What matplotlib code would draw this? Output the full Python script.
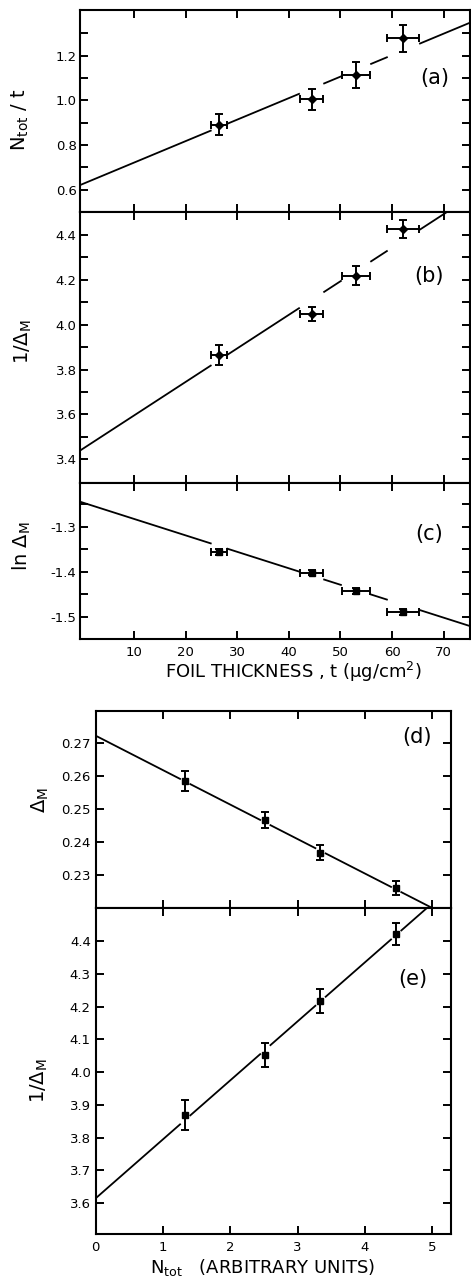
import numpy as np
import matplotlib
matplotlib.use("Agg")
import matplotlib.pyplot as plt
from matplotlib.ticker import FixedLocator

plt.rcParams['font.family'] = ['DejaVu Sans']
plt.rcParams['mathtext.fontset'] = 'dejavusans'
plt.rcParams['mathtext.default'] = 'regular'

# ---- data: top group (vs foil thickness) ----
thickness = [26.5, 44.4, 53.0, 62.2]
thickness_err = [1.5, 2.3, 2.8, 3.1]
ntot_per_t = [0.892, 1.005, 1.112, 1.278]
ntot_per_t_err = [0.045, 0.046, 0.058, 0.060]
inv_delta_t = [3.864, 4.048, 4.219, 4.428]
inv_delta_t_err = [0.045, 0.031, 0.042, 0.040]
ln_delta_t = [-1.357, -1.402, -1.443, -1.490]
ln_delta_t_err = [0.007, 0.006, 0.006, 0.006]
fit_a = (0.625, 0.00963)
fit_b = (3.446, 0.01495)
fit_c = (-1.246, -0.003665)
top_xticks = [10, 20, 30, 40, 50, 60, 70]

# ---- data: bottom group (vs N_tot) ----
ntot = [1.33, 2.52, 3.34, 4.465]
delta_m = [0.2585, 0.2467, 0.2368, 0.2260]
delta_m_err = [0.0030, 0.0023, 0.0023, 0.0021]
inv_delta_n = [3.870, 4.052, 4.218, 4.421]
inv_delta_n_err = [0.046, 0.037, 0.037, 0.033]
fit_d = (0.2723, -0.01046)
fit_e = (3.615, 0.180)
bottom_xticks = [0, 1, 2, 3, 4, 5]

W, H = 471, 1279
fig = plt.figure(figsize=(W / 100, H / 100), dpi=100)

def ax_px(left, top, right, bottom):
    return fig.add_axes([left / W, 1 - bottom / H, (right - left) / W, (bottom - top) / H])

axa = ax_px(80, 10, 469.5, 212)
axb = ax_px(80, 212, 469.5, 482.7)
axc = ax_px(80, 482.7, 469.5, 639)
axd = ax_px(95.7, 711, 450.7, 908.3)
axe = ax_px(95.7, 908.3, 450.7, 1234)

LW = 1.5
for ax in (axa, axb, axc, axd, axe):
    for s in ax.spines.values():
        s.set_linewidth(LW)
    ax.tick_params(which='both', direction='in', top=True, right=True,
                   length=6, width=1.4, labelsize=9.5, pad=2.5)

def fitline(ax, fit, xlim, xs, gaps):
    x = np.linspace(xlim[0], xlim[1], 2000)
    y = fit[0] + fit[1] * x
    for xi, g in zip(xs, gaps):
        y = np.where(np.abs(x - xi) < g, np.nan, y)
    ax.plot(x, y, color='black', lw=1.3, clip_on=True)

def points(ax, x, y, yerr, xerr=None, marker='D', ms=4.5):
    ax.errorbar(x, y, yerr=yerr, xerr=xerr, fmt=marker, color='black', ms=ms,
                ecolor='black', elinewidth=1.4, capsize=3, capthick=1.4)

# top group
txlim = (-0.47, 75.0)
for ax in (axa, axb, axc):
    ax.set_xlim(*txlim)
    ax.xaxis.set_major_locator(FixedLocator(top_xticks))
for ax in (axa, axb):
    ax.tick_params(labelbottom=False)

gaps_top = [e + 0.1 for e in thickness_err]

axa.set_ylim(0.5, 1.405)
axa.yaxis.set_major_locator(FixedLocator([0.6, 0.8, 1.0, 1.2]))
axa.yaxis.set_minor_locator(FixedLocator([0.7, 0.9, 1.1, 1.3]))
axa.set_yticklabels(['0.6', '0.8', '1.0', '1.2'])
fitline(axa, fit_a, txlim, thickness, gaps_top)
points(axa, thickness, ntot_per_t, ntot_per_t_err, thickness_err)

axb.set_ylim(3.296, 4.502)
axb.yaxis.set_major_locator(FixedLocator([3.4, 3.6, 3.8, 4.0, 4.2, 4.4]))
axb.yaxis.set_minor_locator(FixedLocator([3.5, 3.7, 3.9, 4.1, 4.3]))
axb.set_yticklabels(['3.4', '3.6', '3.8', '4.0', '4.2', '4.4'])
fitline(axb, fit_b, txlim, thickness, gaps_top)
points(axb, thickness, inv_delta_t, inv_delta_t_err, thickness_err)

axc.set_ylim(-1.55, -1.202)
axc.yaxis.set_major_locator(FixedLocator([-1.5, -1.4, -1.3]))
axc.yaxis.set_minor_locator(FixedLocator([-1.45, -1.35, -1.25]))
axc.set_yticklabels(['-1.5', '-1.4', '-1.3'])
axc.set_xticklabels([str(v) for v in top_xticks])
axc.tick_params(axis='x', pad=5)
fitline(axc, fit_c, txlim, thickness, gaps_top)
points(axc, thickness, ln_delta_t, ln_delta_t_err, thickness_err, marker='s', ms=5)

# bottom group
bxlim = (0, 5.275)
for ax in (axd, axe):
    ax.set_xlim(*bxlim)
    ax.xaxis.set_major_locator(FixedLocator(bottom_xticks))
    ax.tick_params(axis='y', pad=3.5)
axd.tick_params(labelbottom=False)
gaps_bot = [0.075] * 4

axd.set_ylim(0.2199, 0.2798)
axd.yaxis.set_major_locator(FixedLocator([0.23, 0.24, 0.25, 0.26, 0.27]))
axd.set_yticklabels(['0.23', '0.24', '0.25', '0.26', '0.27'])
fitline(axd, fit_d, bxlim, ntot, gaps_bot)
points(axd, ntot, delta_m, delta_m_err, marker='s', ms=4.5)

axe.set_ylim(3.506, 4.50)
eticks = [3.6, 3.7, 3.8, 3.9, 4.0, 4.1, 4.2, 4.3, 4.4]
axe.yaxis.set_major_locator(FixedLocator(eticks))
axe.set_yticklabels([f'{v:.1f}' for v in eticks])
axe.set_xticklabels([str(v) for v in bottom_xticks])
axe.tick_params(axis='x', pad=5)
fitline(axe, fit_e, bxlim, ntot, gaps_bot)
points(axe, ntot, inv_delta_n, inv_delta_n_err, marker='s', ms=4.5)

# labels
def ylab(ax, x, y, s, fs=14):
    ax.text(x, y, s, transform=ax.transAxes, rotation=90, ha='center', va='center', fontsize=fs)

ylab(axa, -0.154, 0.455, r'N$_{\rm tot}$ / t')
ylab(axb, -0.146, 0.521, r'1/$\Delta_{\rm M}$')
ylab(axc, -0.149, 0.595, r'ln $\Delta_{\rm M}$')
ylab(axd, -0.157, 0.549, r'$\Delta_{\rm M}$')
ylab(axe, -0.160, 0.470, r'1/$\Delta_{\rm M}$')

def plab(ax, x, y, s):
    ax.text(x, y, s, transform=ax.transAxes, ha='center', va='center', fontsize=15)

plab(axa, 0.910, 0.665, '(a)')
plab(axb, 0.897, 0.765, '(b)')
plab(axc, 0.897, 0.672, '(c)')
plab(axd, 0.904, 0.868, '(d)')
plab(axe, 0.894, 0.783, '(e)')

fig.text(293 / W, 1 - 672 / H, r'FOIL THICKNESS , t ($\mu$g/cm$^2$)', ha='center', va='center', fontsize=13)
fig.text(263 / W, 1 - 1268 / H, r'N$_{\rm tot}$   (ARBITRARY UNITS)', ha='center', va='center', fontsize=13)

fig.savefig('out.png', dpi=100)
